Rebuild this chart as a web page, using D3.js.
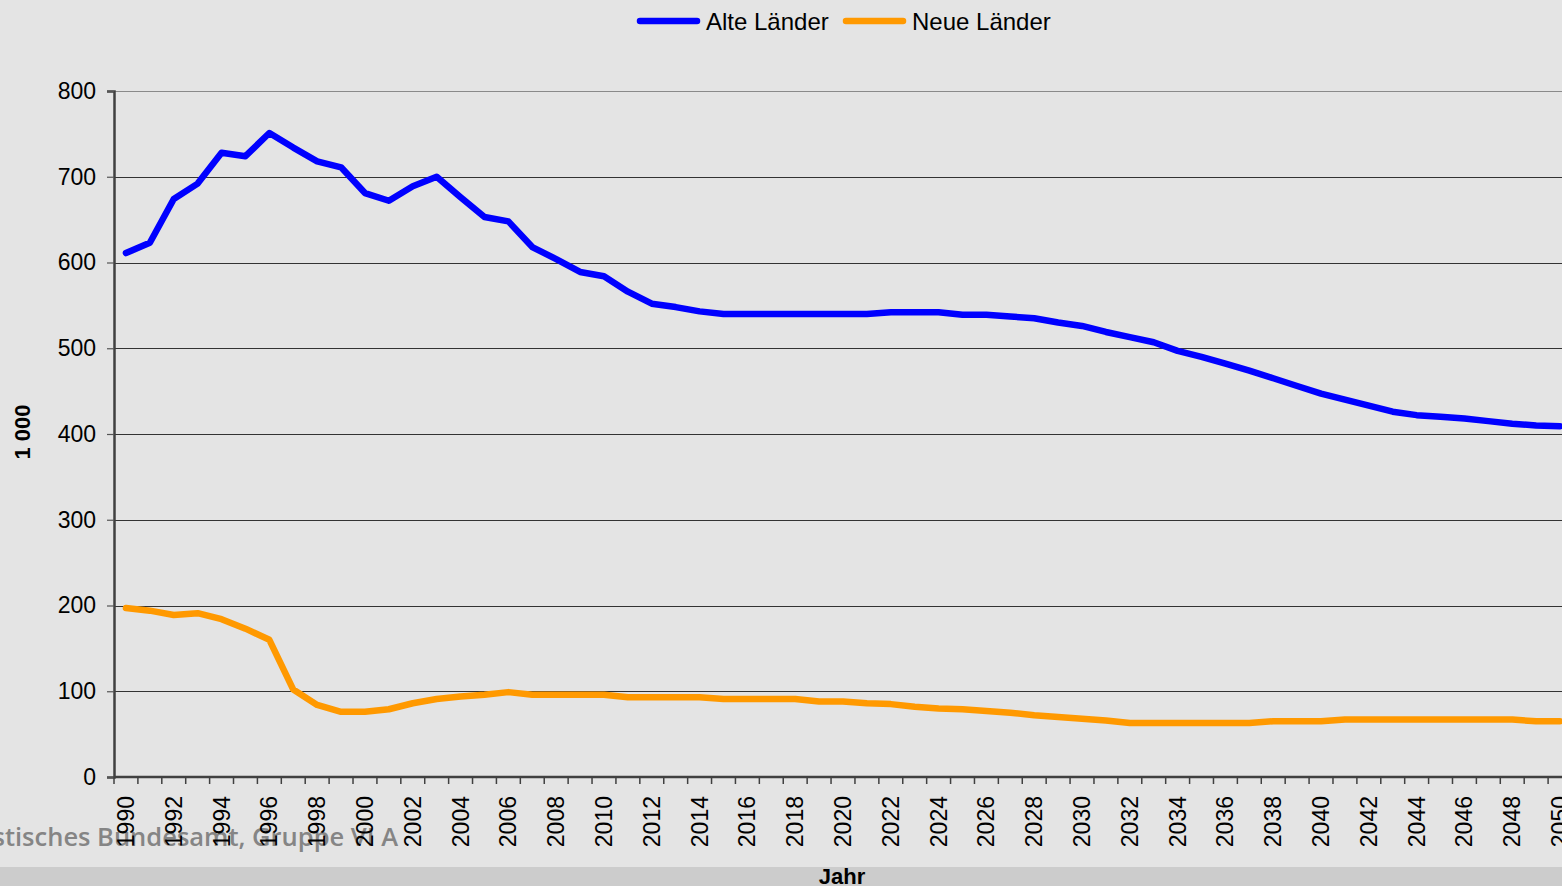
<!DOCTYPE html>
<html>
<head>
<meta charset="utf-8">
<script src="https://cdn.jsdelivr.net/npm/d3@7"></script>
<style>
  html, body { margin: 0; padding: 0; background: #e4e4e4; overflow: hidden; }
  svg { display: block; font-family: "Liberation Sans", Arial, sans-serif; }
</style>
</head>
<body>
<div id="chart"></div>
<script>
// data (in 1 000)
var years = d3.range(1990, 2051);
var alteLaender = [
  611, 623, 674, 692, 728, 724, 751, 734, 718, 711,
  681, 672, 689, 700, 676, 653, 648, 618, 604, 589,
  584, 566, 552, 548, 543, 540, 540, 540, 540, 540,
  540, 540, 542, 542, 542, 539, 539, 537, 535, 530,
  526, 519, 513, 507, 497, 490, 482, 474, 465, 456,
  447, 440, 433, 426, 422, 420, 418, 415, 412, 410,
  409
];
var neueLaender = [
  197, 194, 189, 191, 184, 173, 160, 102, 84, 76,
  76, 79, 86, 91, 94, 96, 99, 96, 96, 96,
  96, 93, 93, 93, 93, 91, 91, 91, 91, 88,
  88, 86, 85, 82, 80, 79, 77, 75, 72, 70,
  68, 66, 63, 63, 63, 63, 63, 63, 65, 65,
  65, 67, 67, 67, 67, 67, 67, 67, 67, 65,
  65
];
var yTicks = [0, 100, 200, 300, 400, 500, 600, 700, 800];
var series = [
  { name: "Alte Länder", values: alteLaender, color: "#0000ff" },
  { name: "Neue Länder", values: neueLaender, color: "#ff9900" }
];

var width = 1562, height = 886;
var margin = { top: 91, left: 114, bottom: 109 };
var plotBottom = height - margin.bottom; // 777
var plotRight = 1572; // plot area runs past the window edge

var svg = d3.select("#chart").append("svg")
  .attr("width", width)
  .attr("height", height);

svg.append("rect").attr("width", width).attr("height", height).attr("fill", "#e4e4e4");
// bottom band
svg.append("rect").attr("x", 0).attr("y", 867).attr("width", width).attr("height", height - 867).attr("fill", "#cccccc");

var x = d3.scaleBand().domain(years).range([margin.left, plotRight]).padding(0);
var y = d3.scaleLinear().domain([0, 800]).range([plotBottom, margin.top]);
var cx = function (yr) { return x(yr) + x.bandwidth() / 2; };

// watermark, cut off at the left
svg.append("text")
  .attr("x", 398).attr("y", 846)
  .attr("text-anchor", "end")
  .style("font-family", "'Open Sans', 'Noto Sans', sans-serif")
  .style("font-weight", 600)
  .style("font-size", "25.5px")
  .attr("fill", "#858585")
  .text("Statistisches Bundesamt, Gruppe VI A");

// gridlines
var grid = svg.append("g").attr("class", "grid");
grid.selectAll("line").data(yTicks.filter(function (d) { return d > 0; }))
  .enter().append("line")
  .attr("x1", margin.left).attr("x2", width)
  .attr("y1", function (d) { return Math.round(y(d)) + 0.5; })
  .attr("y2", function (d) { return Math.round(y(d)) + 0.5; })
  .attr("stroke", function (d) { return d === 800 ? "#8a8a8a" : "#333333"; })
  .attr("stroke-width", 1);

// y axis
var gY = svg.append("g")
  .attr("transform", "translate(" + margin.left + ",0)")
  .call(d3.axisLeft(y).tickValues(yTicks).tickSize(7).tickPadding(11).tickFormat(d3.format("d")));
gY.select(".domain").attr("stroke", "#404040").attr("stroke-width", 2.5);
gY.selectAll(".tick line").attr("stroke", "#555").attr("stroke-width", 1.2);
gY.selectAll(".tick text").style("font-size", "23px").attr("fill", "#000");

// x axis: tick marks at category boundaries, labels every 2 years
var gX = svg.append("g").attr("transform", "translate(0," + plotBottom + ")");
gX.append("line")
  .attr("x1", margin.left).attr("x2", width)
  .attr("stroke", "#404040").attr("stroke-width", 2.5);
gX.selectAll(".tk").data(years).enter().append("line")
  .attr("class", "tk")
  .attr("x1", function (d) { return x(d); })
  .attr("x2", function (d) { return x(d); })
  .attr("y1", 0).attr("y2", 7)
  .attr("stroke", "#404040").attr("stroke-width", 1.5);
gX.selectAll(".lbl").data(years.filter(function (d) { return d % 2 === 0; }))
  .enter().append("text")
  .attr("class", "lbl")
  .attr("transform", function (d) { return "translate(" + (cx(d) + 8) + ",19) rotate(-90)"; })
  .attr("text-anchor", "end")
  .style("font-size", "23px")
  .attr("fill", "#000")
  .text(function (d) { return d; });

// axis titles
svg.append("text")
  .attr("transform", "translate(30,432) rotate(-90)")
  .attr("text-anchor", "middle")
  .style("font-size", "22px").style("font-weight", "bold")
  .text("1 000");
svg.append("text")
  .attr("x", 842).attr("y", 884)
  .attr("text-anchor", "middle")
  .style("font-size", "22px").style("font-weight", "bold")
  .text("Jahr");

// lines
var line = d3.line()
  .x(function (d, i) { return cx(years[i]); })
  .y(function (d) { return y(d); });

svg.selectAll(".series").data(series).enter().append("path")
  .attr("class", "series")
  .attr("d", function (d) { return line(d.values); })
  .attr("fill", "none")
  .attr("stroke", function (d) { return d.color; })
  .attr("stroke-width", 6.5)
  .attr("stroke-linejoin", "round")
  .attr("stroke-linecap", "round");

// legend
var legendX = [640, 846];
var legend = svg.append("g").attr("class", "legend");
var item = legend.selectAll("g").data(series).enter().append("g")
  .attr("transform", function (d, i) { return "translate(" + legendX[i] + ",21)"; });
item.append("line")
  .attr("x1", 0).attr("x2", 57)
  .attr("stroke", function (d) { return d.color; })
  .attr("stroke-width", 6.5)
  .attr("stroke-linecap", "round");
item.append("text")
  .attr("x", 66).attr("y", 8.5)
  .style("font-size", "24px")
  .attr("fill", "#000")
  .text(function (d) { return d.name; });
</script>
</body>
</html>
